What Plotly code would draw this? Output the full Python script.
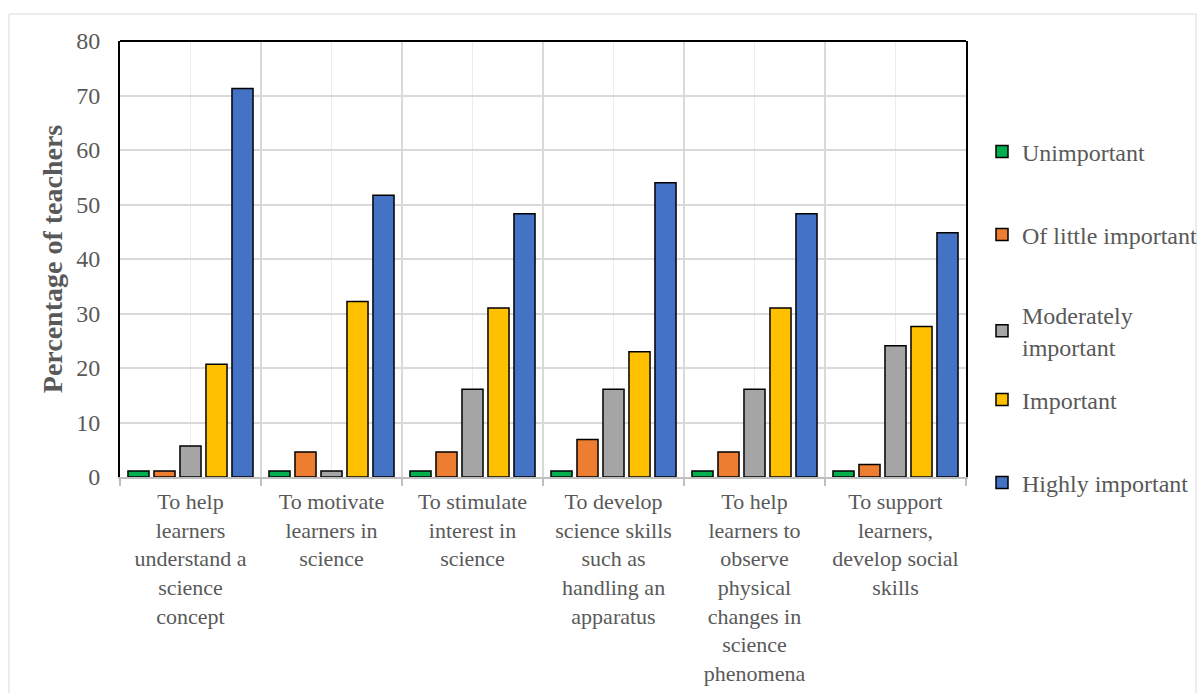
import plotly.graph_objects as go

categories = [
    "To help<br>learners<br>understand a<br>science<br>concept",
    "To motivate<br>learners in<br>science",
    "To stimulate<br>interest in<br>science",
    "To develop<br>science skills<br>such as<br>handling an<br>apparatus",
    "To help<br>learners to<br>observe<br>physical<br>changes in<br>science<br>phenomena",
    "To support<br>learners,<br>develop social<br>skills",
]
unimportant = [1.1, 1.1, 1.1, 1.1, 1.1, 1.1]
little_important = [1.1, 4.6, 4.6, 6.9, 4.6, 2.3]
moderately_important = [5.7, 1.1, 16.1, 16.1, 16.1, 24.1]
important = [20.7, 32.2, 31.0, 23.0, 31.0, 27.6]
highly_important = [71.3, 51.7, 48.3, 54.0, 48.3, 44.8]

series_names = ["Unimportant", "Of little important", "Moderately<br>important",
                "Important", "Highly important"]
series_values = [unimportant, little_important, moderately_important, important, highly_important]
colors = ["#00B050", "#ED7D31", "#A5A5A5", "#FFC000", "#4472C4"]
y_ticks = [0, 10, 20, 30, 40, 50, 60, 70, 80]

FONT = "Liberation Serif, Times New Roman, serif"
GRAY = "#595959"

# layout in pixels
W, H = 1198, 693
L, R, T, B = 120, 1198 - 966, 41, 693 - 477
PW, PH = W - L - R, H - T - B

def px_x(p):
    return (p - L) / PW

def px_y(p):
    return (H - B - p) / PH

xs = list(range(len(categories)))
legend_y_px = [152, 235, 331, 400, 483]

fig = go.Figure()
legend_names = ["legend", "legend2", "legend3", "legend4", "legend5"]
for i, (name, vals, col) in enumerate(zip(series_names, series_values, colors)):
    fig.add_trace(go.Bar(
        x=xs, y=vals, name=name,
        marker=dict(color=col, line=dict(color="#000000", width=1.5)),
        legend=legend_names[i],
    ))

layout_legends = {}
for i, ln in enumerate(legend_names):
    layout_legends[ln] = dict(
        x=px_x(982), xanchor="left",
        y=px_y(legend_y_px[i]), yanchor="middle",
        bgcolor="rgba(0,0,0,0)",
        font=dict(family=FONT, size=24, color=GRAY),
        borderwidth=0,
    )

fig.update_layout(
    width=W, height=H,
    margin=dict(l=L, r=R, t=T, b=B, autoexpand=False),
    paper_bgcolor="white", plot_bgcolor="white",
    barmode="group", bargap=0.078, bargroupgap=0.19,
    font=dict(family=FONT, size=24, color=GRAY),
    showlegend=True,
    **layout_legends,
)

boundaries = [i - 0.5 for i in range(len(categories) + 1)]
fig.update_xaxes(
    range=[-0.5, len(categories) - 0.5],
    tickmode="array", tickvals=xs, ticktext=categories,
    ticks="", showgrid=True, gridcolor="#ececec", gridwidth=1,
    tickfont=dict(family=FONT, size=22, color=GRAY),
    ticklabelstandoff=4,
    showline=True, linecolor="#bfbfbf", linewidth=1.5,
    minor=dict(tickmode="array", tickvals=boundaries, ticks="outside",
               ticklen=7, tickcolor="#bfbfbf", tickwidth=1.5,
               showgrid=True, gridcolor="#d9d9d9", gridwidth=1.5),
    zeroline=False, fixedrange=True,
)
fig.update_yaxes(
    range=[0, 80], tickmode="array", tickvals=y_ticks,
    ticks="", ticklabelstandoff=13,
    tickfont=dict(family=FONT, size=24, color=GRAY),
    showgrid=True, gridcolor="#d9d9d9", gridwidth=1.5,
    showline=True, linecolor="#000000", linewidth=2, mirror=True,
    zeroline=False,
    title=dict(text="<b>Percentage of teachers</b>",
               font=dict(family=FONT, size=28, color=GRAY), standoff=5),
)

# top frame line of the plot area
fig.add_shape(type="line", xref="paper", yref="paper", x0=0, x1=1, y0=1, y1=1,
              line=dict(color="#000000", width=2))
# outer chart border
fig.add_shape(type="rect", xref="paper", yref="paper",
              x0=px_x(9), x1=px_x(1196), y0=px_y(760), y1=px_y(14),
              line=dict(color="#d9d9d9", width=1), layer="below")

fig.write_html("out.html")
